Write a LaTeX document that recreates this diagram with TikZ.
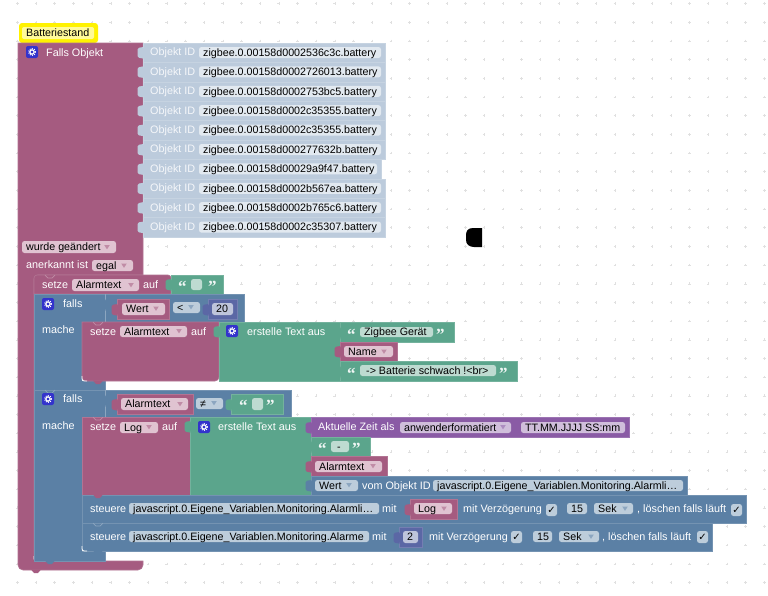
\documentclass[tikz,border=0pt]{standalone}
\usepackage{fontspec}
\setmainfont{Liberation Sans}
\newfontfamily\djfont{DejaVu Sans}
\newfontfamily\qfont{Liberation Serif}
\definecolor{cpink}{HTML}{A55B80}
\definecolor{cblue}{HTML}{5B80A5}
\definecolor{cgreen}{HTML}{5BA58C}
\definecolor{cpurple}{HTML}{8A5BA5}
\definecolor{cnum}{HTML}{5B67A5}
\definecolor{crow}{HTML}{BCCBDC}
\definecolor{fpink}{HTML}{E0C3D1}
\definecolor{fblue}{HTML}{BDCDDB}
\definecolor{fgreen}{HTML}{BEDBD1}
\definecolor{fpurple}{HTML}{D0BEDB}
\definecolor{fnum}{HTML}{BEC4DB}
\definecolor{frow}{HTML}{E2E9F0}
\definecolor{cgear}{HTML}{3333CC}
\newcounter{nc}
\tikzset{
  lbl/.style={anchor=base west,inner sep=0pt,text=white,font=\fontsize{10.8}{12}\selectfont},
  ftx/.style={anchor=base west,inner sep=0pt,text=black,font=\fontsize{10.7}{12}\selectfont},
  blk/.style={fill=#1,draw=#1!85!white,line width=.6pt},
  fieldbox/.style={fill=#1,rounded corners=2.5pt}
}
\newcommand{\lab}[3]{\stepcounter{nc}\node[lbl] (l\arabic{nc}) at (#1,{#2+3.7}) {#3};}
\newcommand{\fd}[6]{\stepcounter{nc}\fill[fieldbox=#5] (#1,#3) rectangle (#2,#4);
  \node[ftx] (f\arabic{nc}) at ({#1+4},{((#3)+(#4))/2+3.7}) {#6};}
\newcommand{\dd}[3]{\fill[#3!70!white] ({#1-2.8},{#2-2}) -- ({#1+2.8},{#2-2}) -- (#1,{#2+2.3}) -- cycle;}
\newcommand{\bl}[5]{\path[blk=#5] (#1,#2) rectangle (#3,#4);}
\newcommand{\tabb}[3]{\fill[#3,rounded corners=1.5pt] (#1,{#2+4}) -- ({#1-5.5},{#2+5}) -- ({#1-5.5},{#2+14.5}) -- (#1,{#2+15.5}) -- ({#1+1},{#2+15.5}) -- ({#1+1},{#2+4}) -- cycle;}
\newcommand{\bump}[3]{\fill[#3] ({#1+11},{#2-.5}) -- ({#1+14},{#2+3}) -- ({#1+18},{#2+3}) -- ({#1+21},{#2-.5}) -- cycle;}
\newcommand{\chev}[3]{\draw[#3!70!white,line width=.7pt] ({#1+11},#2) -- ({#1+14},{#2+3}) -- ({#1+18},{#2+3}) -- ({#1+21},#2);}
\newcommand{\gearb}[2]{\fill[cgear,rounded corners=2pt] (#1,#2) rectangle ({#1+12},{#2+12});
  \draw[white,line width=1.2pt] ({#1+6},{#2+6}) circle[radius=2.2pt];
  \draw[white,line width=1pt,dash pattern=on .9pt off 1.4pt] ({#1+6},{#2+6}) circle[radius=3.5pt];}
\newcommand{\chk}[3]{\stepcounter{nc}\fill[fieldbox=#3] (#1,#2) rectangle ({#1+11},{#2+12});
  \node[ftx,anchor=center,font=\djfont\fontsize{10}{12}\selectfont] (c\arabic{nc}) at ({#1+5.5},{#2+6}) {✓};}
\newcommand{\quo}[3]{\stepcounter{nc}
  \node[lbl,text=white!90!cgreen,font=\qfont\bfseries\fontsize{17}{17}\selectfont] (q\arabic{nc}) at (#1,{#3+13.5}) {“};
  \stepcounter{nc}
  \node[lbl,text=white!90!cgreen,font=\qfont\bfseries\fontsize{17}{17}\selectfont] (q\arabic{nc}) at (#2,{#3+13.5}) {”};}
\newcommand{\rowid}[3]{\path[blk=crow] (143,#1) rectangle (#2,{#1+19.4});
  \tabb{143}{#1}{crow}
  \stepcounter{nc}\node[lbl,text=white!85!crow] (r\arabic{nc}) at (150,{#1+9.2+3.7}) {Objekt ID};
  \fd{199}{#2-4}{#1+4}{#1+15}{frow}{#3}}
\newcommand{\whitecorner}[2]{\draw[white,line width=.8pt] (#1,{#2-5}) .. controls (#1,#2) .. ({#1+5},#2);}
\begin{document}
\begin{tikzpicture}[x=1pt,y=-1pt]
\useasboundingbox (0,0) rectangle (768,595);
\fill[white] (0,0) rectangle (768,595);
% dot grid
\foreach \i in {0,...,40}{\foreach \j in {0,...,31}{
  \draw[black!12,line width=.5pt] ({17.4+18.67*\i-1.3},{3.7+18.67*\j}) -- ({17.4+18.67*\i+1.3},{3.7+18.67*\j})
     ({17.4+18.67*\i},{3.7+18.67*\j-1.3}) -- ({17.4+18.67*\i},{3.7+18.67*\j+1.3});}}
% black mark
\fill[black] (482,228) -- (473,228) .. controls (468,228) and (466,231) .. (466,235) -- (466,240) .. controls (466,244) and (469,247) .. (474,247) -- (482,247) -- cycle;
% comment
\fill[yellow,rounded corners=3pt] (19,23) rectangle (98,43);
\fill[yellow] (30,42) -- (38,42) -- (34,46) -- cycle;
\fill[yellow!40!white,rounded corners=2pt] (22,27) rectangle (94,39);
\node[ftx] (comment) at (26,36.5) {Batteriestand};
% main block
\path[blk=cpink] (143,43) -- (18,43) [rounded corners=5pt] -- (18,570) -- (143,570) [sharp corners] -- (143,561) [rounded corners=4pt] -- (34,561) -- (34,275) [sharp corners] -- (143,275) -- cycle;
\bump{20}{570}{cpink}
\whitecorner{34}{561}
\gearb{26}{46}
\lab{46}{52.5}{Falls Objekt}
\rowid{43}{385}{zigbee.0.00158d0002536c3c.battery}
\rowid{62.4}{385}{zigbee.0.00158d0002726013.battery}
\rowid{81.8}{385}{zigbee.0.00158d0002753bc5.battery}
\rowid{101.2}{385}{zigbee.0.00158d0002c35355.battery}
\rowid{120.6}{385}{zigbee.0.00158d0002c35355.battery}
\rowid{140}{385}{zigbee.0.00158d000277632b.battery}
\rowid{159.4}{381}{zigbee.0.00158d00029a9f47.battery}
\rowid{178.8}{385}{zigbee.0.00158d0002b567ea.battery}
\rowid{198.2}{385}{zigbee.0.00158d0002b765c6.battery}
\rowid{217.6}{385}{zigbee.0.00158d0002c35307.battery}
\fd{22}{116}{241}{253}{fpink}{wurde geändert}\dd{107}{247}{cpink}
\lab{26}{265}{anerkannt ist}
\fd{92}{133}{260}{271}{fpink}{egal}\dd{124}{265.5}{cpink}
% setze Alarmtext (top)
\path[blk=cpink,rounded corners=3pt] (34,294) -- (34,275) -- (171,275) [sharp corners] -- (171,294) -- cycle;
\bl{171}{275}{223}{294}{cgreen}
\tabb{171}{275}{cgreen}
\chev{34}{275}{cpink}
\lab{42}{284.5}{setze}
\fd{72}{139}{279}{291}{fpink}{Alarmtext}\dd{131}{285}{cpink}
\lab{143}{284.5}{auf}
\quo{178}{208}{279}
\fill[fgreen,rounded corners=2.5pt] (191,279) rectangle (202,290);
% falls 1
\path[blk=cblue] (34,294) -- (244,294) -- (244,322) -- (82,322) -- (82,380) -- (105,380) -- (105,390) -- (34,390) -- cycle;
\draw[cblue!70!white,line width=.7pt] (105,294) -- (105,322);
\tabb{105}{295}{cblue}
\gearb{42}{298}
\lab{63}{304}{falls}
\lab{42}{330}{mache}
\bl{117}{299}{169}{319}{cpink}
\tabb{117}{300}{cpink}
\fd{122}{165}{303}{315}{fpink}{Wert}\dd{156}{308.5}{cpink}
\fd{173}{200}{302}{313}{fblue}{<}\dd{191}{307}{cblue}
\bl{208}{299}{237}{319}{cnum}
\tabb{208}{300}{cnum}
\fd{212}{233}{303}{315}{fnum}{20}
% setze Alarmtext (inner)
\path[blk=cpink] (219,322) -- (82,322) [rounded corners=4pt] -- (82,381) -- (219,381) [sharp corners] -- cycle;
\bump{82}{381}{cpink}
\whitecorner{82}{381}
\chev{82}{322}{cpink}
\lab{90}{331.5}{setze}
\fd{120}{187}{326}{337}{fpink}{Alarmtext}\dd{179}{331}{cpink}
\lab{191}{331.5}{auf}
\bl{219}{322}{340}{381}{cgreen}
\tabb{219}{322}{cgreen}
\gearb{226}{325}
\lab{247}{331.5}{erstelle Text aus}
\bl{340}{322}{454}{342}{cgreen}
\tabb{340}{323}{cgreen}
\quo{347}{436}{327}
\fd{360}{433}{327}{337}{fgreen}{Zigbee Gerät}
\bl{340}{342}{397}{361}{cpink}
\tabb{340}{342}{cpink}
\fd{344}{393}{346}{357}{fpink}{Name}\dd{384}{351.5}{cpink}
\bl{340}{361}{517}{381}{cgreen}
\tabb{340}{362}{cgreen}
\quo{347}{499}{366}
\fd{360}{496}{365}{376}{fgreen}{\hspace*{2pt}-> Batterie schwach !<br>}
% falls 2
\path[blk=cblue] (34,390) -- (291,390) -- (291,417) -- (82,417) -- (82,551) -- (105,551) -- (105,561) -- (34,561) -- cycle;
\draw[cblue!70!white,line width=.7pt] (105,390) -- (105,417);
\chev{34}{390}{cblue}
\tabb{105}{391}{cblue}
\bump{34}{561}{cblue}
\gearb{42}{393}
\lab{63}{399}{falls}
\lab{42}{426}{mache}
\bl{117}{394}{193}{414}{cpink}
\tabb{117}{395}{cpink}
\fd{121}{188}{398}{410}{fpink}{Alarmtext}\dd{180}{404}{cpink}
\fd{196}{223}{398}{409}{fblue}{≠}\dd{214}{403}{cblue}
\bl{231}{394}{283}{414}{cgreen}
\tabb{231}{395}{cgreen}
\quo{239}{266}{398}
\fill[fgreen,rounded corners=2.5pt] (252,398) rectangle (263,410);
% setze Log
\path[blk=cpink] (190,417) -- (82,417) -- (82,495) -- (190,495) -- cycle;
\chev{82}{417}{cpink}
\lab{90}{427}{setze}
\fd{120}{158}{422}{433}{fpink}{Log}\dd{149}{427}{cpink}
\lab{162}{427}{auf}
\bl{190}{417}{311}{495}{cgreen}
\tabb{190}{417}{cgreen}
\gearb{198}{421}
\lab{218}{427}{erstelle Text aus}
\bl{311}{417}{629}{437}{cpurple}
\tabb{311}{418}{cpurple}
\lab{318}{427}{Aktuelle Zeit als}
\fd{400}{511}{422}{433}{fpurple}{anwenderformatiert}\dd{503}{427}{cpurple}
\fd{521}{625}{422}{433}{fpurple}{TT.MM.JJJJ SS:mm}
\bl{311}{437}{370}{456}{cgreen}
\tabb{311}{437}{cgreen}
\quo{318}{352}{441}
\fd{331}{349}{441}{452}{fgreen}{\hspace*{2pt}-}
\bl{311}{456}{387}{476}{cpink}
\tabb{311}{457}{cpink}
\fd{315}{382}{461}{472}{fpink}{Alarmtext}\dd{373}{466}{cpink}
\bl{311}{476}{687}{495}{cblue}
\tabb{311}{476}{cblue}
\fd{315}{358}{480}{491}{fblue}{Wert}\dd{349}{485}{cblue}
\lab{362}{485.5}{vom Objekt ID}
\fd{433}{683}{480}{491}{fblue}{javascript.0.Eigene\_Variablen.Monitoring.Alarmli…}
% steuere 1
\path[blk=cblue] (82,495) rectangle (746,523);
\bump{82}{495}{cpink}
\lab{90}{508.5}{steuere}
\fd{129}{379}{503}{514}{fblue}{javascript.0.Eigene\_Variablen.Monitoring.Alarmli…}
\lab{382}{508.5}{mit}
\bl{410}{499}{457}{519}{cpink}
\tabb{410}{500}{cpink}
\fd{414}{452}{503}{514}{fpink}{Log}\dd{444}{508.5}{cpink}
\lab{463}{508.5}{mit Verzögerung}
\chk{546}{504}{fblue}
\fd{567}{587}{503}{514}{fblue}{15}
\fd{594}{633}{503}{514}{fblue}{Sek}\dd{625}{508.5}{cblue}
\lab{637}{508.5}{, löschen falls läuft}
\chk{731}{504}{fblue}
% steuere 2
\path[blk=cblue] (82,523) -- (712,523) -- (712,551) -- (82,551) -- cycle;
\chev{82}{523}{cblue}
\bump{82}{551}{cblue}
\whitecorner{82}{551}
\lab{90}{536.5}{steuere}
\fd{129}{369}{531}{542}{fblue}{javascript.0.Eigene\_Variablen.Monitoring.Alarme}
\lab{372}{536.5}{mit}
\bl{399}{527}{422}{547}{cnum}
\tabb{399}{528}{cnum}
\fd{403}{418}{531}{543}{fnum}{2}
\lab{429}{536.5}{mit Verzögerung}
\chk{511}{531}{fblue}
\fd{533}{552}{531}{542}{fblue}{15}
\fd{559}{599}{531}{542}{fblue}{Sek}\dd{591}{536.5}{cblue}
\lab{602}{536.5}{, löschen falls läuft}
\chk{697}{531}{fblue}
\end{tikzpicture}
\end{document}
